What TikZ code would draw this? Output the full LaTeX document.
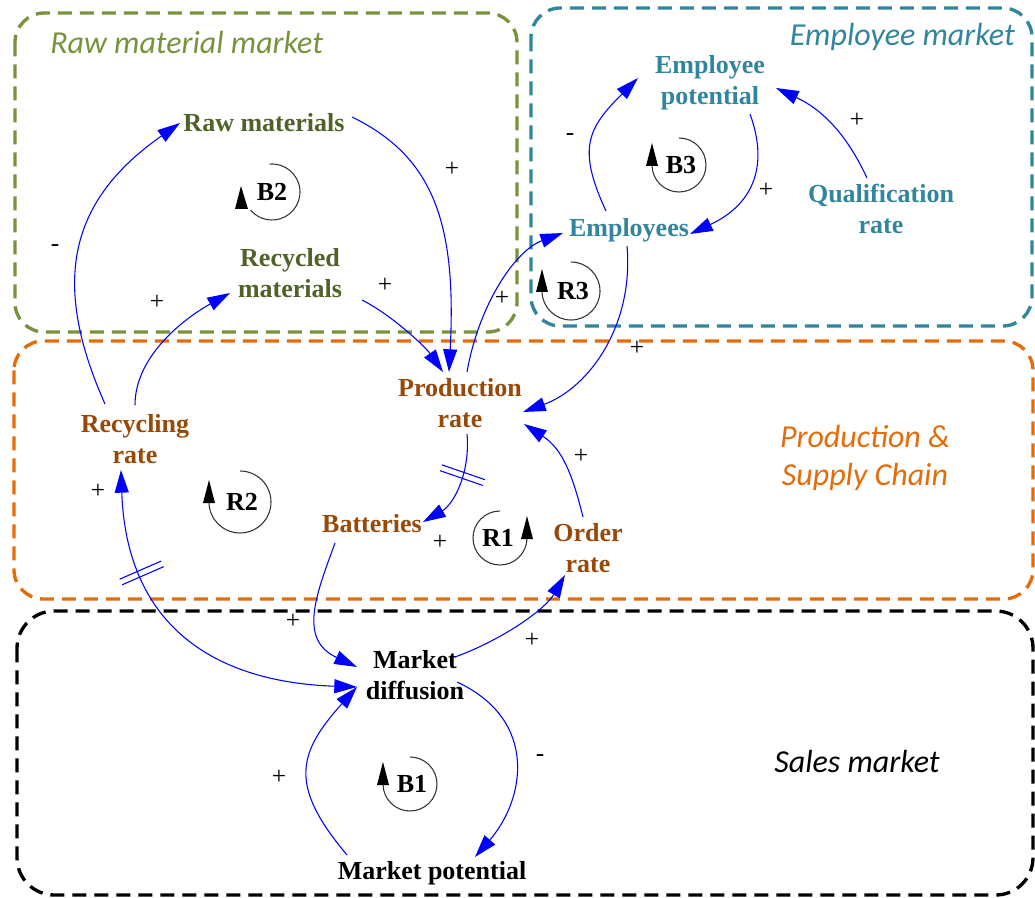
\documentclass[tikz,border=0pt]{standalone}
\usepackage{fontspec}
\setmainfont{Liberation Serif}
\newfontfamily\titlefont{Carlito}
\usetikzlibrary{arrows.meta,decorations.markings,calc}
\definecolor{grnbox}{HTML}{77933C}
\definecolor{grntxt}{HTML}{4F6228}
\definecolor{tealc}{HTML}{31859C}
\definecolor{orgc}{HTML}{E46C0A}
\definecolor{brownc}{HTML}{984807}
\definecolor{linkc}{HTML}{0000FF}
\definecolor{loopc}{HTML}{333333}
\tikzset{
  area/.style={line width=2.5pt, dash pattern=on 10.5pt off 6pt, rounded corners=22pt},
  areatitle/.style={font=\titlefont\itshape\fontsize{24}{28.5}\selectfont, align=center, inner sep=0pt},
  var/.style={font=\fontsize{19.5}{23.25}\selectfont\bfseries, align=center, inner sep=1pt},
  looplab/.style={font=\fontsize{19.5}{23.25}\selectfont\bfseries, inner sep=0pt},
  sign/.style={font=\fontsize{19}{22}\selectfont, inner sep=0pt},
  link/.style={draw=linkc, line width=0.8pt, -{Triangle[length=17pt,width=10.5pt]}},
  dlink/.style={draw=linkc, line width=0.8pt, {Triangle[length=17pt,width=10.5pt]}-{Triangle[length=17pt,width=10.5pt]}},
  loopline/.style={draw=loopc, line width=0.8pt},
  delay/.style={postaction={decorate, decoration={markings, mark=at position #1 with {\draw[linkc, line width=0.8pt, arrows=-] (-2.3pt,-17pt) -- (-2.3pt,17pt) (2.3pt,-17pt) -- (2.3pt,17pt);}}}}
}
\newcommand\loopsym[5]{%
  \begin{scope}[shift={#2}, xscale=#4]
    \draw[loopline] (90:#5) arc[start angle=90, end angle=-178, radius=#5];
    \fill[black] (-#5,22) -- (-#5-6,-1) -- (-#5+6,-1) -- cycle;
    \node[looplab] (#1) at (2,0) {#3};
  \end{scope}}
\begin{document}
\begin{tikzpicture}[x=0.75pt, y=0.75pt]
\useasboundingbox (0,0) rectangle (1035,-898);
% areas
\draw[area, grnbox] (15,-13) rectangle (517,-332);
\draw[area, tealc] (531,-8) rectangle (1032,-326);
\draw[area, orgc] (14,-341) rectangle (1033,-599);
\draw[area, black, rounded corners=28pt] (17,-611) rectangle (1033,-895);
\node[areatitle, text=grnbox, anchor=west] (t1) at (50,-43) {Raw material market};
\node[areatitle, text=tealc, anchor=east] (t2) at (1015,-37) {Employee market};
\node[areatitle, text=orgc] (t3) at (865,-458) {Production \&\\ Supply Chain};
\node[areatitle, text=black] (t4) at (857,-762) {Sales market};
% variables
\node[var, text=grntxt] (rawmat) at (264,-123) {Raw materials};
\node[var, text=grntxt] (recmat) at (290,-273) {Recycled\\materials};
\node[var, text=tealc] (emppot) at (710,-83) {Employee\\potential};
\node[var, text=tealc] (empl) at (629,-230) {Employees};
\node[var, text=tealc] (qual) at (881,-209) {Qualification\\rate};
\node[var, text=brownc] (prod) at (460,-403) {Production\\rate};
\node[var, text=brownc] (recrate) at (135,-439) {Recycling\\rate};
\node[var, text=brownc] (batt) at (372,-524) {Batteries};
\node[var, text=brownc] (order) at (588,-548) {Order\\rate};
\node[var, text=black] (mdiff) at (415,-675) {Market\\diffusion};
\node[var, text=black] (mpot) at (432,-873) {Market potential};
% links
\draw[link] ($(recrate)+(-30,35)$) to[out=114,in=215,out distance=101pt,in distance=101pt] ($(rawmat)+(-84,0)$);
\draw[link] ($(recrate)+(0,34)$) to[out=90,in=209,out distance=37.5pt,in distance=37.5pt] ($(recmat)+(-60,-20)$);
\draw[link] ($(rawmat)+(88,6)$) to[out=-26,in=87,out distance=67.5pt,in distance=112.5pt] ($(prod)+(-11,31)$);
\draw[link] ($(recmat)+(72,-27)$) to[out=-27,in=125,out distance=26pt,in distance=22.5pt] ($(prod)+(-17,31)$);
\draw[link] ($(prod)+(7,31)$) to[out=80,in=200,out distance=52.5pt,in distance=37.5pt] ($(empl)+(-66,-3)$);
\draw[link] ($(empl)+(-2,-16)$) to[out=-85,in=20,out distance=60pt,in distance=52.5pt] ($(prod)+(63,-9)$);
\draw[link] ($(empl)+(-23,19)$) to[out=115,in=225,out distance=52.5pt,in distance=52.5pt] ($(emppot)+(-72,5)$);
\draw[link] ($(emppot)+(40,-31)$) to[out=-70,in=25,out distance=45pt,in distance=49pt] ($(empl)+(61,-4)$);
\draw[link] ($(qual)+(-14,31)$) to[out=115,in=-25,out distance=37.5pt,in distance=37.5pt] ($(emppot)+(66,-5)$);
\draw[link, delay=0.4] ($(prod)+(7,-31)$) to[out=-85,in=30,out distance=30pt,in distance=26pt] ($(batt)+(51,2)$);
\draw[link] ($(order)+(-5,31)$) to[out=104,in=-33,out distance=34pt,in distance=34pt] ($(prod)+(64,-21)$);
\draw[link] ($(batt)+(-37,-19)$) to[out=-110,in=155,out distance=41pt,in distance=49pt] ($(mdiff)+(-58,8)$);
\draw[link] ($(mdiff)+(40,18)$) to[out=20,in=240,out distance=37.5pt,in distance=30pt] ($(order)+(-23,-27)$);
\draw[dlink, delay=0.29] ($(recrate)+(-14,-31)$) to[out=-88,in=178,out distance=112.5pt,in distance=112.5pt] ($(mdiff)+(-58,-12)$);
\draw[link] ($(mdiff)+(42,-7)$) to[out=-25,in=49,out distance=68pt,in distance=57pt] ($(mpot)+(43,16)$);
\draw[link] ($(mpot)+(-85,18)$) to[out=130,in=228,out distance=67.5pt,in distance=67.5pt] ($(mdiff)+(-58,-12)$);
% polarity signs
\node[sign] (s1) at (55,-248) {-};
\node[sign] (s2) at (157,-302) {+};
\node[sign] (s3) at (452,-169) {+};
\node[sign] (s4) at (385,-285) {+};
\node[sign] (s5) at (502,-298) {+};
\node[sign] (s6) at (637,-348) {+};
\node[sign] (s7) at (570,-137) {-};
\node[sign] (s8) at (766,-190) {+};
\node[sign] (s9) at (857,-120) {+};
\node[sign] (s10) at (440,-542) {+};
\node[sign] (s11) at (581,-456) {+};
\node[sign] (s12) at (293,-621) {+};
\node[sign] (s13) at (532,-640) {+};
\node[sign] (s14) at (98,-491) {+};
\node[sign] (s15) at (540,-758) {-};
\node[sign] (s16) at (279,-777) {+};
% loop markers
\begin{scope}[shift={(272,-192)}]
  \draw[loopline] (95:28) arc[start angle=95, end angle=-140, radius=28];
  \fill[black] (-31,6) -- (-37,-17) -- (-24,-17) -- cycle;
  \node[looplab] (B2) at (0,0) {B2};
\end{scope}
\loopsym{B3}{(679,-165)}{B3}{1}{27}
\loopsym{R3}{(571,-291)}{R3}{1}{29}
\loopsym{R2}{(240,-502)}{R2}{1}{31}
\loopsym{R1}{(500,-538)}{R1}{-1}{27}
\loopsym{B1}{(410,-784)}{B1}{1}{27}
\end{tikzpicture}
\end{document}
